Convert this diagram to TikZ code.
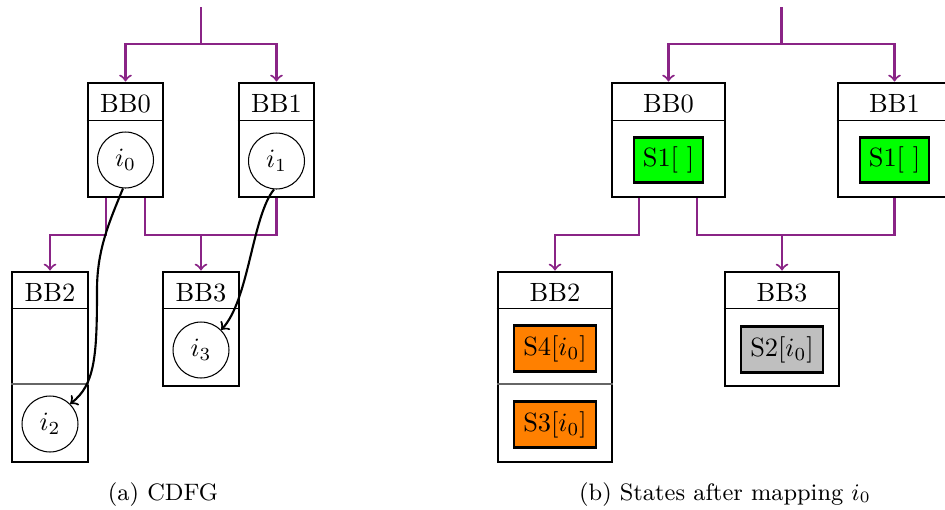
\documentclass[tikz,border=0pt]{standalone}
\usetikzlibrary{calc}
\definecolor{cfgpurple}{RGB}{138,36,134}
\definecolor{stgreen}{RGB}{0,255,0}
\definecolor{storange}{RGB}{255,128,0}
\definecolor{stgray}{RGB}{191,191,191}
\begin{document}
\begin{tikzpicture}[x=0.3788pt,y=-0.3788pt,
  bbbox/.style={draw,line width=1.1pt,rectangle,inner sep=0pt},
  bbhead/.style={inner sep=0pt,anchor=base},
  headrule/.style={line width=0.5pt},
  secrule/.style={line width=0.9pt,black!60},
  var/.style={draw,circle,line width=0.4pt,minimum size=21.2pt,inner sep=0pt},
  stbox/.style={draw,line width=1pt,rectangle,inner sep=0pt,minimum height=17.2pt},
  flow/.style={cfgpurple,line width=0.8pt,->},
  flowline/.style={cfgpurple,line width=0.8pt},
  dep/.style={black,line width=0.8pt,->},
  caption/.style={font=\small,inner sep=0pt,anchor=base}]
\useasboundingbox (0,0) rectangle (945,509);

% ---------------- (a) CDFG ----------------
\node[bbbox,minimum width=28.4pt,minimum height=43.2pt] (a0) at (125.5,140) {};
\node[bbbox,minimum width=28.4pt,minimum height=43.2pt] (a1) at (276.5,140) {};
\node[bbbox,minimum width=28.8pt,minimum height=72pt] (a2) at (50,367) {};
\node[bbbox,minimum width=28.8pt,minimum height=43.2pt] (a3) at (201,329) {};

\node[bbhead] (a0h) at (125.5,112) {BB0};
\node[bbhead] (a1h) at (276.5,112) {BB1};
\node[bbhead] (a2h) at (50,301) {BB2};
\node[bbhead] (a3h) at (201,301) {BB3};

\draw[headrule] ($(a0.north west)+(0,39)$) -- ($(a0.north east)+(0,39)$);
\draw[headrule] ($(a1.north west)+(0,39)$) -- ($(a1.north east)+(0,39)$);
\draw[headrule] ($(a2.north west)+(0,38)$) -- ($(a2.north east)+(0,38)$);
\draw[headrule] ($(a3.north west)+(0,38)$) -- ($(a3.north east)+(0,38)$);
\draw[secrule] ($(a2.north west)+(0,113.5)$) -- ($(a2.north east)+(0,113.5)$);

\node[var] (i0) at (125.5,160) {$i_0$};
\node[var] (i1) at (276.5,161) {$i_1$};
\node[var] (i2) at (50,424) {$i_2$};
\node[var] (i3) at (201,350) {$i_3$};

% control flow
\coordinate (atop) at (201,7);
\coordinate (asplit) at (201,44);
\coordinate (aj0) at (106,235);
\coordinate (aj1) at (145,235);
\draw[flow] (atop) -- (asplit) -| (a0.north);
\draw[flow] (asplit) -| (a1.north);
\draw[flow] (a0.south -| aj0) -- (aj0) -| (a2.north);
\draw[flowline] (a0.south -| aj1) -- (aj1) -| (a1.south);
\draw[flow] (aj1 -| a3.north) -- (a3.north);

% data dependences
\coordinate (dmid) at (97,290);
\draw[dep] (i0.-95) .. controls +(-14,34) and +(0,-40) .. (dmid)
                    .. controls +(0,65) and +(25,-19) .. (i2.45);
\draw[dep] (i1.-95) .. controls +(-22,27) and +(28,-30) .. (i3.45);

\node[caption] (capa) at (163,500) {(a) CDFG};

% ---------------- (b) states ----------------
\node[bbbox,minimum width=42.8pt,minimum height=43.2pt] (b0) at (668.5,140) {};
\node[bbbox,minimum width=42.8pt,minimum height=43.2pt] (b1) at (894.5,140) {};
\node[bbbox,minimum width=43.2pt,minimum height=72pt] (b2) at (555,367) {};
\node[bbbox,minimum width=43.2pt,minimum height=43.2pt] (b3) at (782,329) {};

\node[bbhead] (b0h) at (668.5,112) {BB0};
\node[bbhead] (b1h) at (894.5,112) {BB1};
\node[bbhead] (b2h) at (555,301) {BB2};
\node[bbhead] (b3h) at (782,301) {BB3};

\draw[headrule] ($(b0.north west)+(0,39)$) -- ($(b0.north east)+(0,39)$);
\draw[headrule] ($(b1.north west)+(0,39)$) -- ($(b1.north east)+(0,39)$);
\draw[headrule] ($(b2.north west)+(0,38)$) -- ($(b2.north east)+(0,38)$);
\draw[headrule] ($(b3.north west)+(0,38)$) -- ($(b3.north east)+(0,38)$);
\draw[secrule] ($(b2.north west)+(0,113.5)$) -- ($(b2.north east)+(0,113.5)$);

\node[stbox,fill=stgreen,minimum width=26.1pt] (s1a) at (668.5,160) {S1[\ ]};
\node[stbox,fill=stgreen,minimum width=26.1pt] (s1b) at (894.5,160) {S1[\ ]};
\node[stbox,fill=storange,minimum width=31.1pt] (s4) at (555,348.5) {S4[$i_0$]};
\node[stbox,fill=storange,minimum width=31.1pt] (s3) at (555,424.5) {S3[$i_0$]};
\node[stbox,fill=stgray,minimum width=31.1pt] (s2) at (782,349.5) {S2[$i_0$]};

\coordinate (btop) at (781.5,7);
\coordinate (bsplit) at (781.5,44);
\coordinate (bj0) at (639,235);
\coordinate (bj1) at (697,235);
\draw[flow] (btop) -- (bsplit) -| (b0.north);
\draw[flow] (bsplit) -| (b1.north);
\draw[flow] (b0.south -| bj0) -- (bj0) -| (b2.north);
\draw[flowline] (b0.south -| bj1) -- (bj1) -| (b1.south);
\draw[flow] (bj1 -| b3.north) -- (b3.north);

\node[caption] (capb) at (725,500) {(b) States after mapping $i_0$};
\end{tikzpicture}
\end{document}
